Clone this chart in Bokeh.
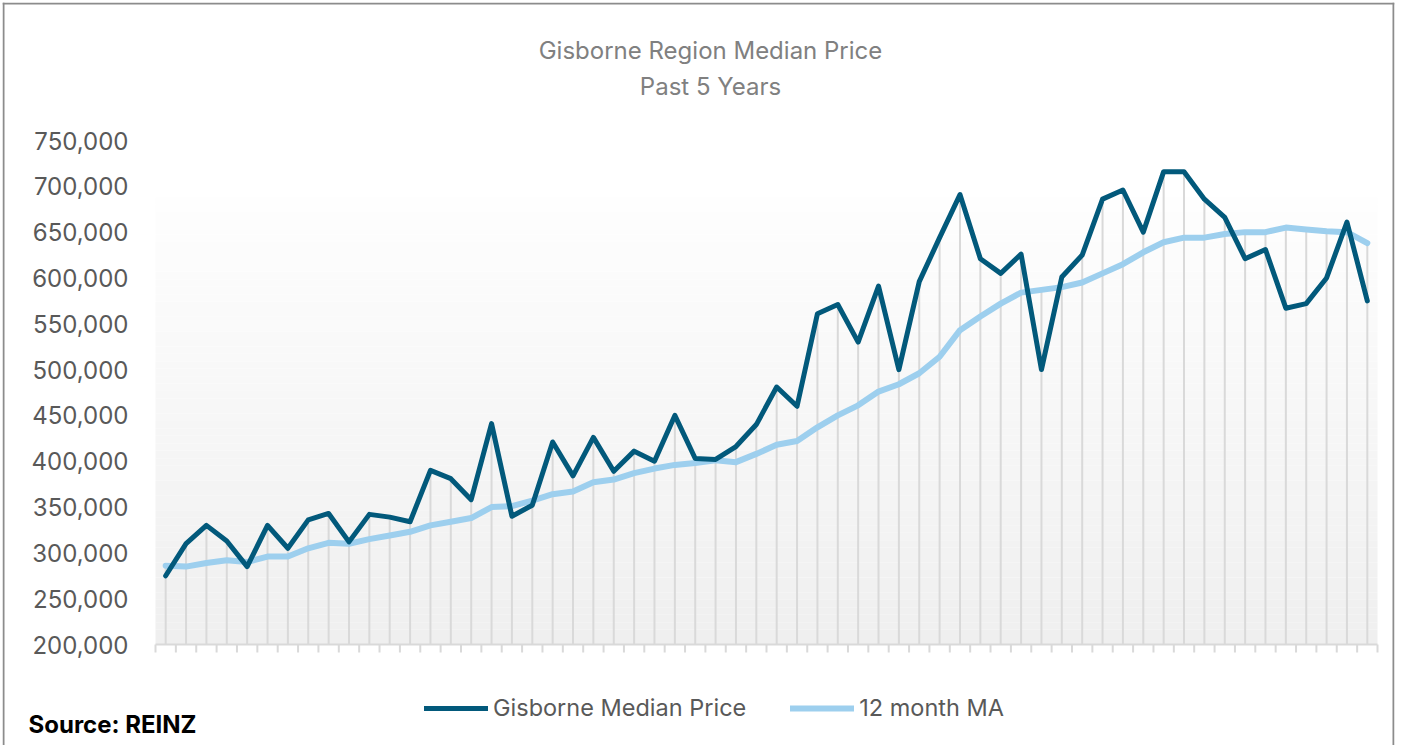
import numpy as np
from bokeh.plotting import figure
from bokeh.models import (Range1d, FixedTicker, NumeralTickFormatter, Legend, LegendItem,
                          Label, Span, ColumnDataSource)
from bokeh.embed import file_html
from bokeh.resources import INLINE

# ---------------- data ----------------
title_line1 = "Gisborne Region Median Price"
title_line2 = "Past 5 Years"
source_text = "Source: REINZ"
series_names = ["Gisborne Median Price", "12 month MA"]

median_price = [
    275000, 310000, 330000, 313000, 285000, 330000, 305000, 336000, 343000, 312000,
    342000, 339000, 334000, 390000, 381000, 358000, 441000, 340000, 352000, 421000,
    384000, 426000, 389000, 411000, 400000, 450000, 403000, 402000, 416000, 440000,
    481000, 460000, 561000, 571000, 530000, 591000, 500000, 596000, 644000, 691000,
    621000, 605000, 626000, 500000, 601000, 625000, 686000, 696000, 650000, 716000,
    716000, 686000, 666000, 621000, 631000, 567000, 572000, 600000, 661000, 575000,
]
ma_12 = [
    286000, 285000, 289000, 292000, 290000, 296000, 296000, 305000, 311000, 310000,
    315000, 319000, 323000, 330000, 334000, 338000, 350000, 351000, 357000, 364000,
    367000, 377000, 380000, 387000, 392000, 396000, 398000, 401000, 399000, 408000,
    418000, 422000, 437000, 450000, 461000, 476000, 484000, 496000, 514000, 543000,
    558000, 572000, 584000, 587000, 590000, 595000, 605000, 615000, 628000, 639000,
    644000, 644000, 648000, 650000, 650000, 655000, 653000, 651000, 650000, 638000,
]
y_ticks = [200000, 250000, 300000, 350000, 400000, 450000, 500000, 550000,
           600000, 650000, 700000, 750000]

n = len(median_price)
x = list(range(n))
drop_top = [max(a, b) for a, b in zip(median_price, ma_12)]
boundaries = [i - 0.5 for i in range(n + 1)]

DARK = "#02597b"
LIGHT = "#9dcfee"
GRID = "#d9d9d9"
BORDER = "#8c8c8c"
FONT = "Inter"

# ---------------- layout (pixels) ----------------
W, H = 1395, 745
FL, FT, FR, FB = 2, 2, 1394, H        # frame = whole chart box
PLOT_L, PLOT_R = 155, 1377            # pixel columns of category edges -0.5 and n-0.5
Y_TOP_PX, Y_BOT_PX = 140, 644         # pixel rows of 750,000 and 200,000
cat_px = (PLOT_R - PLOT_L) / n
val_px = (Y_BOT_PX - Y_TOP_PX) / (y_ticks[-1] - y_ticks[0])
x_start = -0.5 - (PLOT_L - FL) / cat_px
x_end = -0.5 + (FR - PLOT_L) / cat_px
y_start = y_ticks[0] - (FB - Y_BOT_PX) / val_px
y_end = y_ticks[0] + (Y_BOT_PX - FT) / val_px


def px_to_x(px):
    return -0.5 + (px - PLOT_L) / cat_px


def py_to_y(py):
    return y_ticks[0] + (Y_BOT_PX - py) / val_px


p = figure(width=W, height=H, output_backend="svg", toolbar_location=None,
           x_range=Range1d(x_start, x_end), y_range=Range1d(y_start, y_end),
           min_border_left=FL, min_border_right=W - FR,
           min_border_top=FT, min_border_bottom=H - FB)
p.outline_line_color = None
p.background_fill_color = "white"
p.border_fill_color = "white"
p.xgrid.visible = False
p.ygrid.visible = False
p.xaxis.visible = False

# chart border (left, top, right)
p.add_layout(Span(location=px_to_x(3), dimension="height", line_color=BORDER, line_width=2))
p.add_layout(Span(location=px_to_x(1393), dimension="height", line_color=BORDER, line_width=2))
p.add_layout(Span(location=py_to_y(3), dimension="width", line_color=BORDER, line_width=2))

# gradient plot-area background (white at top -> light grey at bottom)
nb = 60
grad_top = 688000
edges = np.linspace(y_ticks[0], grad_top, nb + 1)
c0 = np.array([0xef, 0xef, 0xef])
c1 = np.array([0xfe, 0xfe, 0xfe])
cols = []
for i in range(nb):
    t = (i + 0.5) / nb
    c = (c0 + (c1 - c0) * t).round().astype(int)
    cols.append("#%02x%02x%02x" % tuple(c))
p.quad(left=-0.5, right=n - 0.5, bottom=edges[:-1], top=edges[1:], fill_color=cols,
       line_color=None)

# category axis: base line + tick marks between categories
tick_len = 8 / val_px
p.segment(x0=boundaries[0], y0=y_ticks[0], x1=boundaries[-1], y1=y_ticks[0],
          line_color=GRID, line_width=2)
p.segment(x0=boundaries, y0=y_ticks[0], x1=boundaries, y1=y_ticks[0] - tick_len,
          line_color=GRID, line_width=2)

# drop lines
p.segment(x0=x, y0=y_ticks[0], x1=x, y1=drop_top, line_color=GRID, line_width=2)

# series
src = ColumnDataSource(dict(x=x, med=median_price, ma=ma_12))
r_ma = p.line("x", "ma", source=src, line_color=LIGHT, line_width=6, line_join="round",
              line_cap="round")
r_med = p.line("x", "med", source=src, line_color=DARK, line_width=5, line_join="round",
               line_cap="round")

# value axis (labels right-aligned at x=128)
p.yaxis.ticker = FixedTicker(ticks=y_ticks)
p.yaxis.formatter = NumeralTickFormatter(format="0,0")
p.yaxis.axis_line_color = None
p.yaxis.major_tick_line_color = None
p.yaxis.minor_tick_line_color = None
p.yaxis.major_tick_out = 0
p.yaxis.major_tick_in = 0
p.yaxis.major_label_text_font = FONT
p.yaxis.major_label_text_font_size = "24px"
p.yaxis.major_label_text_color = "#595959"
p.yaxis.major_label_standoff = -(128 - FL)

# titles (screen units relative to the frame's bottom-left)
TITLE_CX = 710
for txt, cy in [(title_line1, 50), (title_line2, 86)]:
    p.add_layout(Label(x=TITLE_CX - FL, y=FB - cy, x_units="screen", y_units="screen",
                       text=txt, text_align="center", text_baseline="middle",
                       text_font=FONT, text_font_size="24px", text_color="#808080"))

# source note
p.add_layout(Label(x=28 - FL, y=FB - 724, x_units="screen", y_units="screen",
                   text=source_text, text_align="left", text_baseline="middle",
                   text_font=FONT, text_font_style="bold", text_font_size="24px",
                   text_color="black"))

# legend
legend = Legend(items=[LegendItem(label=series_names[0], renderers=[r_med]),
                       LegendItem(label=series_names[1], renderers=[r_ma])],
                orientation="horizontal", location=(424 - FL, FB - 722))
legend.border_line_color = None
legend.background_fill_alpha = 0
legend.padding = 0
legend.margin = 0
legend.spacing = 44
legend.glyph_width = 64
legend.glyph_height = 26
legend.label_standoff = 5
legend.label_text_font = FONT
legend.label_text_font_size = "23.5px"
legend.label_text_color = "#595959"
legend.label_height = 26
p.add_layout(legend, "center")

open("out.html", "w").write(file_html(p, INLINE))
